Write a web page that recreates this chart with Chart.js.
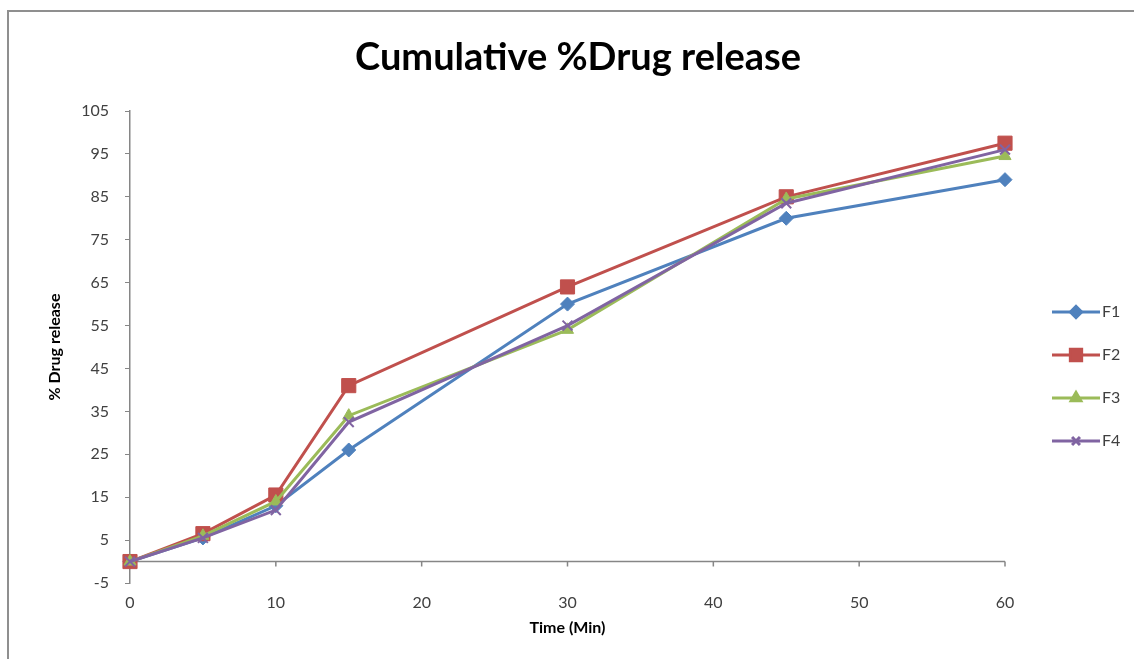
<!DOCTYPE html>
<html>
<head>
<meta charset="utf-8">
<script src="https://cdn.jsdelivr.net/npm/chart.js@4/dist/chart.umd.min.js"></script>
<style>
  body { margin: 0; background: #fff; }
  #frame { position: absolute; left: 7px; top: 10px; width: 1140px; height: 660px; border: 2px solid #8f8f8f; box-sizing: border-box; }
  #wrap { position: absolute; left: 0; top: 0; width: 1134px; height: 659px; }
</style>
</head>
<body>
<div id="frame"></div>
<div id="wrap"><canvas id="releaseChart" width="1134" height="659"></canvas></div>
<script>

// time points (min)
const tiempos = [0, 5, 10, 15, 30, 45, 60];

const serieF1 = [0, 5.5, 13, 26, 60, 80, 89];
const serieF2 = [0, 6.5, 15.5, 41, 64, 85, 97.5];
const serieF3 = [0, 6, 14, 34, 54, 84.5, 94.5];
const serieF4 = [0, 5.5, 12, 32.5, 55, 83.5, 96];

const nomes = ["F1", "F2", "F3", "F4"];
const cores = ["#4f81bd", "#c0504d", "#9bbb59", "#8064a2"];
const marcadores = ["rectRot", "rect", "triangle", "crossRot"];
const raios = [7, 10, 7, 7];

const yTicks = [-5, 5, 15, 25, 35, 45, 55, 65, 75, 85, 95, 105];
const xTicks = [0, 10, 20, 30, 40, 50, 60];

const titulo = "Cumulative %Drug release";
const fonte = "Lato, 'Liberation Sans', sans-serif";

const series = [serieF1, serieF2, serieF3, serieF4];

const datasets = series.map((serie, i) => ({
    label: nomes[i],
    data: serie.map((v, j) => ({ x: tiempos[j], y: v })),
    borderColor: cores[i],
    backgroundColor: cores[i],
    borderWidth: 3,
    pointStyle: marcadores[i],
    pointRadius: raios[i],
    pointBorderColor: cores[i],
    pointBackgroundColor: cores[i],
    pointBorderWidth: marcadores[i] === "crossRot" ? 2 : 1,
    tension: 0,
    clip: false,
    order: 3 - i
}));

// eixo X cruzando em y = 0, com marcas
const eixoZero = {
    id: "eixoZero",
    beforeDatasetsDraw(chart) {
        const { ctx, scales: { x, y } } = chart;
        const y0 = y.getPixelForValue(0);
        ctx.save();
        ctx.strokeStyle = "#868686";
        ctx.lineWidth = 1.5;
        ctx.beginPath();
        ctx.moveTo(x.left, y0);
        ctx.lineTo(x.right, y0);
        xTicks.forEach(t => {
            const px = x.getPixelForValue(t);
            ctx.moveTo(px, y0);
            ctx.lineTo(px, y0 + 5);
        });
        ctx.stroke();
        ctx.restore();
    }
};

// titulo centrado na area do grafico inteiro
const tituloTopo = {
    id: "tituloTopo",
    afterDraw(chart) {
        const { ctx } = chart;
        ctx.save();
        ctx.fillStyle = "#000";
        ctx.font = "bold 38px " + fonte;
        ctx.textAlign = "center";
        ctx.textBaseline = "middle";
        ctx.fillText(titulo, 578, 58);
        ctx.restore();
    }
};

// legenda estilo Excel: linha + marcador
const legendaLateral = {
    id: "legendaLateral",
    afterDraw(chart) {
        const { ctx, chartArea } = chart;
        const x0 = chartArea.right + 47;
        let yy = chartArea.top + 201;
        ctx.save();
        nomes.forEach((nome, i) => {
            ctx.strokeStyle = cores[i];
            ctx.lineWidth = 3;
            ctx.beginPath();
            ctx.moveTo(x0, yy);
            ctx.lineTo(x0 + 48, yy);
            ctx.stroke();
            ctx.fillStyle = cores[i];
            Chart.helpers.drawPoint(ctx, {
                pointStyle: marcadores[i],
                radius: raios[i] * 0.8,
                borderWidth: marcadores[i] === "crossRot" ? 2 : 1
            }, x0 + 24, yy);
            ctx.fillStyle = "#404040";
            ctx.font = "16px " + fonte;
            ctx.textBaseline = "middle";
            ctx.textAlign = "left";
            ctx.fillText(nome, x0 + 50, yy);
            yy += 43;
        });
        ctx.restore();
    }
};

new Chart(document.getElementById("releaseChart"), {
    type: "line",
    data: { datasets: datasets },
    plugins: [eixoZero, tituloTopo, legendaLateral],
    options: {
        responsive: false,
        animation: false,
        layout: { padding: { left: 40, right: 129, top: 111, bottom: 10 } },
        plugins: {
            legend: { display: false },
            tooltip: { enabled: false },
            title: { display: false }
        },
        scales: {
            x: {
                type: "linear",
                min: 0,
                max: 60,
                afterBuildTicks: s => { s.ticks = xTicks.map(v => ({ value: v })); },
                afterFit: s => { s.height = 66; },
                grid: { display: false },
                border: { display: false },
                ticks: { color: "#404040", font: { family: fonte, size: 16 }, padding: 2 },
                title: {
                    display: true,
                    text: "Time (Min)",
                    color: "#000",
                    font: { family: fonte, size: 16, weight: "bold" },
                    padding: { top: 0, bottom: 12 }
                }
            },
            y: {
                min: -5,
                max: 105,
                afterBuildTicks: s => { s.ticks = yTicks.map(v => ({ value: v })); },
                afterFit: s => { s.width = 90; },
                grid: { drawOnChartArea: false, drawTicks: true, tickLength: 5, color: "#868686" },
                border: { display: true, color: "#868686", width: 1.5 },
                ticks: { color: "#404040", font: { family: fonte, size: 16 }, padding: 16 },
                title: {
                    display: true,
                    text: "% Drug release",
                    color: "#000",
                    font: { family: fonte, size: 16, weight: "bold" },
                    padding: { top: 5, bottom: 0 }
                }
            }
        }
    }
});
</script>
</body>
</html>
